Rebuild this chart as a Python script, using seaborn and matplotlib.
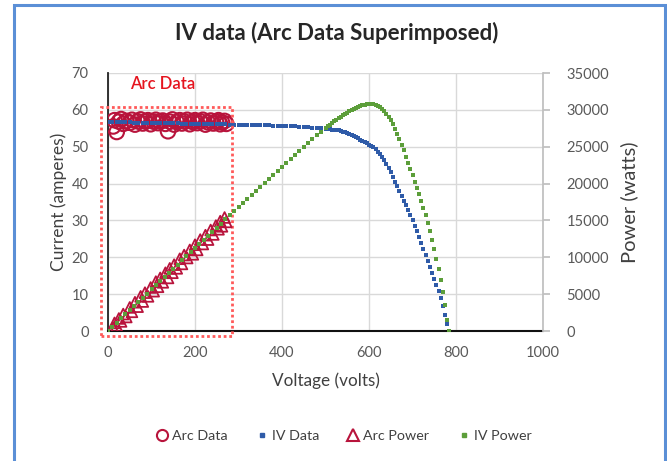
import matplotlib
matplotlib.use("Agg")
import matplotlib.pyplot as plt
from matplotlib.lines import Line2D
from matplotlib.patches import Rectangle
import seaborn as sns
import pandas as pd

sns.set_theme(style="white")
plt.rcParams['font.family'] = ['Lato', 'DejaVu Sans']

# ---------------- data ----------------
iv_voltage = [0, 10, 20, 30, 40, 50, 60, 70, 80, 90, 100, 110, 120, 130, 140, 150, 160, 170, 180, 190,
              200, 210, 220, 230, 240, 250, 260, 270, 280, 290, 300, 310, 320, 330, 340, 350, 360, 370, 380, 390,
              400, 410, 420, 430, 440, 450, 460, 470, 480, 490, 500,
              505, 510, 515, 520, 525, 530, 535, 540, 545, 550, 555, 560, 565, 570, 575, 580, 585, 590, 595,
              600, 605, 610, 615, 620, 625, 630, 635, 640, 645, 650, 655, 660, 665, 670, 675, 680, 685, 690, 695,
              700, 705, 710, 715, 720, 725, 730, 735, 740, 745, 750, 755, 760, 765, 770, 775, 780, 783]
iv_current = [56.70, 56.68, 56.65, 56.63, 56.60, 56.58, 56.55, 56.53, 56.50, 56.48, 56.45, 56.43, 56.40, 56.38,
              56.35, 56.33, 56.30, 56.28, 56.25, 56.23, 56.20, 56.18, 56.15, 56.13, 56.10, 56.08, 56.05, 56.03,
              56.00, 55.98, 55.95, 55.93, 55.90, 55.88, 55.85, 55.83, 55.80, 55.78, 55.75, 55.73, 55.70,
              55.66, 55.62, 55.55, 55.45, 55.35, 55.25, 55.15, 55.05, 54.95, 54.85,
              54.80, 54.72, 54.65, 54.58, 54.50, 54.40, 54.25, 54.10, 53.90, 53.70, 53.45, 53.20, 52.90, 52.60,
              52.25, 51.90, 51.60, 51.30, 50.95, 50.60, 50.20, 49.80, 49.25, 48.70, 48.05, 47.20, 46.30, 45.30,
              44.30, 43.20, 41.90, 40.50, 39.30, 38.00, 36.70, 35.40, 34.10, 32.80, 31.50, 30.20, 28.60, 27.00,
              25.40, 23.80, 22.20, 20.60, 19.00, 17.40, 15.80, 14.20, 12.50, 10.80, 8.90, 6.80, 4.40, 1.80, 0.0]
iv_power = [0, 567, 1133, 1699, 2264, 2829, 3393, 3957, 4520, 5083, 5645, 6207, 6768, 7329, 7889, 8450,
            9008, 9568, 10125, 10684, 11240, 11798, 12353, 12910, 13464, 14020, 14573, 15128, 15680, 16234,
            16785, 17338, 17888, 18440, 18989, 19540, 20088, 20639, 21185, 21734, 22280,
            22830, 23380, 23920, 24460, 24990, 25510, 26030, 26540, 27040, 27530,
            27770, 28010, 28240, 28460, 28680, 28890, 29090, 29280, 29460, 29640, 29810, 29970, 30120, 30260,
            30390, 30510, 30610, 30700, 30770, 30800, 30790, 30740, 30650, 30520, 30350, 30100, 29820, 29480,
            29060, 28580, 28040, 27440, 26780, 26060, 25300, 24500, 23650, 22800, 21950, 21100, 20250, 19400,
            18550, 17650, 16700, 15700, 14650, 13550, 12350, 11100, 9800, 8400, 6900, 5300, 3500, 1500, 0]

arc_voltage = [12, 15, 20, 25, 30, 35, 42, 50, 55, 62, 68, 75, 80, 85, 92, 98, 105, 110, 115, 120, 126, 132,
               138, 142, 148, 152, 158, 165, 170, 175, 182, 188, 195, 200, 205, 212, 218, 224, 230, 236, 242,
               248, 254, 258, 262, 268, 272]
arc_current = [55.5, 57.2, 54.0, 56.8, 57.5, 56.2, 57.0, 56.5, 57.3, 56.0, 56.9, 57.4, 56.3, 56.9, 57.2, 56.1,
               56.8, 57.3, 56.4, 56.9, 57.1, 56.2, 54.2, 56.8, 57.4, 56.0, 56.7, 57.2, 56.3, 56.9, 57.3, 56.1,
               56.7, 57.2, 56.4, 56.9, 57.3, 56.0, 56.6, 57.1, 56.3, 56.8, 57.2, 56.1, 56.6, 57.0, 56.2]
arc_power = [450, 1100, 700, 1700, 1300, 2300, 1900, 3200, 2600, 3900, 3300, 4700, 4000, 5200, 4700, 5900,
             5400, 6700, 6000, 7200, 6600, 7900, 7200, 8500, 7900, 9000, 8500, 9800, 9100, 10300, 9900, 11000,
             10400, 11700, 11000, 12400, 11800, 13000, 12400, 13700, 13100, 14300, 13800, 14900, 14200, 15400,
             14800]

x_ticks = [0, 200, 400, 600, 800, 1000]
y_ticks = [0, 10, 20, 30, 40, 50, 60, 70]
y2_ticks = [0, 5000, 10000, 15000, 20000, 25000, 30000, 35000]

iv_df = pd.DataFrame({"Voltage": iv_voltage, "Current": iv_current, "Power": iv_power})
arc_df = pd.DataFrame({"Voltage": arc_voltage, "Current": arc_current, "Power": arc_power})

RED = "#b8143c"
BLUE = "#2f5ba8"
GREEN = "#5c9e3a"
TXT = "#595959"

# ---------------- figure ----------------
fig = plt.figure(figsize=(6.67, 4.61), dpi=100)
ax = fig.add_axes([108 / 667, 1 - 331 / 461, (543 - 108) / 667, (331 - 73) / 461])
ax2 = ax.twinx()

sns.scatterplot(data=arc_df, x="Voltage", y="Current", ax=ax, marker="o", s=110,
                color=RED, facecolor="none", edgecolor=RED, linewidth=1.5, zorder=3)
sns.scatterplot(data=iv_df, x="Voltage", y="Current", ax=ax, marker="s", s=5,
                color=BLUE, edgecolor=BLUE, linewidth=0, zorder=4)
sns.scatterplot(data=arc_df, x="Voltage", y="Power", ax=ax2, marker="^", s=60,
                color=RED, facecolor="none", edgecolor=RED, linewidth=1.3, zorder=3)
sns.scatterplot(data=iv_df, x="Voltage", y="Power", ax=ax2, marker="s", s=5,
                color=GREEN, edgecolor=GREEN, linewidth=0, zorder=4)

ax.set_xlim(0, 1000)
ax.set_ylim(0, 70)
ax2.set_ylim(0, 35000)
ax.set_xticks(x_ticks)
ax.set_yticks(y_ticks)
ax2.set_yticks(y2_ticks)
ax.set_xticklabels([str(v) for v in x_ticks])
ax.set_yticklabels([str(v) for v in y_ticks])
ax2.set_yticklabels([str(v) for v in y2_ticks])

ax.grid(True, color="#d9d9d9", linewidth=1.0)
ax.set_axisbelow(True)
ax2.grid(False)

for a in (ax, ax2):
    a.spines["top"].set_visible(False)
ax.spines["left"].set_color("#222222")
ax.spines["left"].set_linewidth(1.3)
ax.spines["bottom"].set_color("#111111")
ax.spines["bottom"].set_linewidth(1.5)
ax.spines["right"].set_visible(False)
ax2.spines["left"].set_visible(False)
ax2.spines["bottom"].set_visible(False)
ax2.spines["right"].set_color("#bfbfbf")

ax.tick_params(axis="y", length=0, labelsize=10.5, labelcolor=TXT, pad=14)
ax.tick_params(axis="x", length=0, labelsize=10.5, labelcolor=TXT, pad=11)
ax2.tick_params(axis="y", length=5, color="#bfbfbf", labelsize=10.5, labelcolor=TXT, pad=12, direction="out")

ax.set_xlabel("Voltage (volts)", fontsize=12.3, color="#404040", labelpad=9)
ax.set_ylabel("Current (amperes)", fontsize=12.5, color="#404040", labelpad=3)
ax2.set_ylabel("Power (watts)", fontsize=14.5, color="#404040", labelpad=8)

# Arc data highlight box
rect = Rectangle((-15, -1.3), 300, 62.1, fill=False, edgecolor="#ff5a5a", linewidth=2,
                 linestyle=(0, (1, 1)), clip_on=False, zorder=5)
ax.add_patch(rect)
ax.text(50, 67.0, "Arc Data", color="#e5141e", fontsize=12, fontweight="semibold",
        va="center", ha="left")

fig.text(0.505, 1 - 33 / 461, "IV data (Arc Data Superimposed)", ha="center", va="center",
         fontsize=16, fontweight="bold", color="#262626")

handles = [
    Line2D([], [], marker="o", linestyle="none", markerfacecolor="none", markeredgecolor=RED,
           markersize=8, markeredgewidth=1.5, label="Arc Data"),
    Line2D([], [], marker="s", linestyle="none", color=BLUE, markersize=2.5, label="IV Data"),
    Line2D([], [], marker="^", linestyle="none", markerfacecolor="none", markeredgecolor=RED,
           markersize=8, markeredgewidth=1.5, label="Arc Power"),
    Line2D([], [], marker="s", linestyle="none", color=GREEN, markersize=2.5, label="IV Power"),
]
fig.legend(handles=handles, loc="center", bbox_to_anchor=(1 - 0.487, 1 - 436 / 461), ncol=4,
           frameon=False, fontsize=10.3, labelcolor="#404040", handletextpad=0.1,
           columnspacing=1.8, handlelength=1.2)

# figure border
fig.patches.append(Rectangle((14 / 667, -0.02), (665 - 14) / 667, 1.02 - 5 / 461,
                             transform=fig.transFigure, fill=False, edgecolor="#5b8fd6",
                             linewidth=2.2, zorder=10))

fig.savefig("out.png", dpi=100)
